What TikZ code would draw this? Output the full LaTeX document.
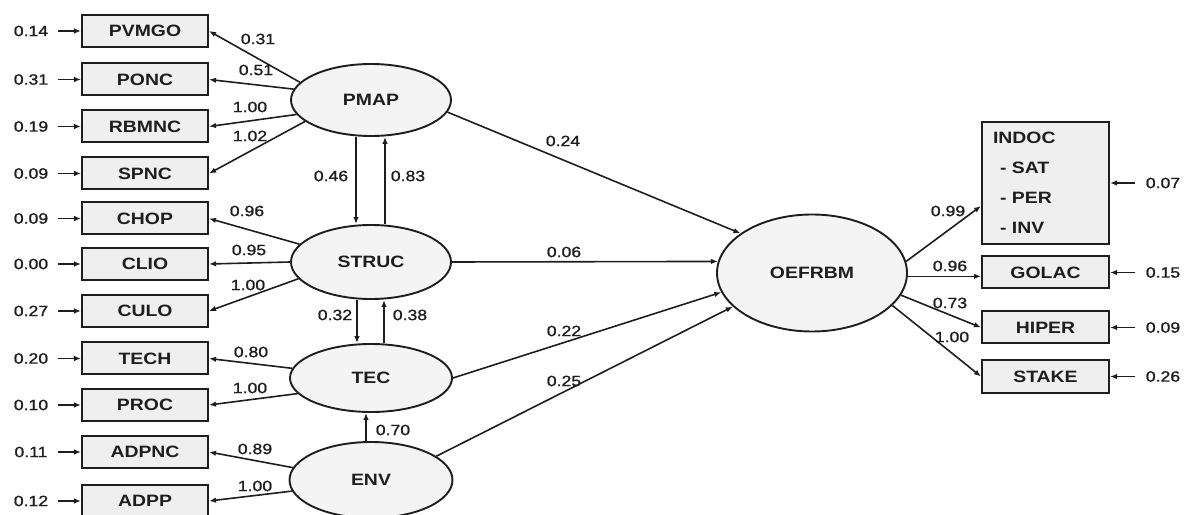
\documentclass[tikz,border=0pt]{standalone}
\usepackage{fontspec}
\setmainfont{Liberation Sans}[FakeStretch=1.18]
\newfontfamily\numfont{Liberation Sans}[FakeStretch=1.18,FakeBold=1.2]
\usetikzlibrary{arrows.meta,shapes.geometric}
\definecolor{ink}{HTML}{1E1E1E}
\definecolor{boxfill}{HTML}{EFEFEF}
\definecolor{latfill}{HTML}{F4F4F4}

\begin{document}
\begin{tikzpicture}[x=1bp,y=-1bp,
  obs/.style={rectangle,draw=ink,line width=2bp,fill=boxfill,
    minimum width=126bp,minimum height=32bp,inner sep=0pt,
    font=\fontsize{16.5}{19}\selectfont\bfseries,text=ink},
  lat/.style={ellipse,draw=ink,line width=1.9bp,fill=latfill,inner sep=0pt,
    font=\fontsize{16.5}{19}\selectfont\bfseries,text=ink},
  num/.style={inner sep=0pt,font=\numfont\fontsize{15}{18}\selectfont,text=ink},
  link/.style={draw=ink,line width=1.6bp,-{Latex[length=7bp,width=5.5bp]}}
]
\useasboundingbox (0,0) rectangle (1193,515);

% observed indicators of the exogenous factors, with their error terms
\foreach \n/\y/\e in {PVMGO/31/0.14, PONC/79.5/0.31, RBMNC/126.5/0.19,
    SPNC/173.5/0.09, CHOP/218.5/0.09, CLIO/264/0.00, CULO/311/0.27,
    TECH/358.5/0.20, PROC/405/0.10, ADPNC/452/0.11, ADPP/501/0.12}{
  \node[obs] (\n) at (145,\y) {\n};
  \node[num] (err\n) at (31,\y) {\e};
  \coordinate (src\n) at (58,\y);
  \draw[link] (src\n) -- (\n.west);
}

% latent variables
\node[lat,minimum width=160bp,minimum height=72bp] (PMAP) at (371,100) {PMAP};
\node[lat,minimum width=160bp,minimum height=74bp] (STRUC) at (371,262) {STRUC};
\node[lat,minimum width=162bp,minimum height=68bp] (TEC) at (371,378) {TEC};
\node[lat,minimum width=163bp,minimum height=76bp] (ENV) at (371,480) {ENV};
\node[lat,minimum width=190bp,minimum height=117bp] (OEFRBM) at (812,273) {OEFRBM};

% outcome indicators
\node[obs,minimum width=127bp,minimum height=122bp,align=left,
      text width=105bp,font=\fontsize{16.5}{30}\selectfont\bfseries]
  (INDOC) at (1045.5,183) {INDOC\\\hspace*{7bp}- SAT\\\hspace*{7bp}- PER\\\hspace*{7bp}- INV};
\node[obs,minimum width=127bp] (GOLAC) at (1045.5,272.5) {GOLAC};
\node[obs,minimum width=127bp] (HIPER) at (1045.5,327.5) {HIPER};
\node[obs,minimum width=127bp,minimum height=33bp] (STAKE) at (1045.5,376.5) {STAKE};

\foreach \n/\y/\e in {INDOC/183/0.07, GOLAC/272.5/0.15, HIPER/327.5/0.09, STAKE/376.5/0.26}{
  \coordinate (src\n) at (1135,\y);
  \node[num] (err\n) at (1163,\y) {\e};
  \draw[link] (src\n) -- (\n.east);
}

% measurement paths (latent -> indicator)
\draw[link] (PMAP.166) -- (PVMGO.east);
\draw[link] (PMAP.172) -- (PONC.east);
\draw[link] (PMAP.191) -- (RBMNC.east);
\draw[link] (PMAP.198) -- (SPNC.east);
\draw[link] (STRUC.166) -- (CHOP.east);
\draw[link] (STRUC.180) -- (CLIO.east);
\draw[link] (STRUC.193) -- (CULO.east);
\draw[link] (TEC.173) -- (TECH.east);
\draw[link] (TEC.192) -- (PROC.east);
\draw[link] (ENV.171) -- (ADPNC.east);
\draw[link] (ENV.188) -- (ADPP.east);

\node[num] (lPVMGO) at (258,39) {0.31};
\node[num] (lPONC) at (256,70) {0.51};
\node[num] (lRBMNC) at (250,107) {1.00};
\node[num] (lSPNC) at (250,136) {1.02};
\node[num] (lCHOP) at (247,211) {0.96};
\node[num] (lCLIO) at (249,250) {0.95};
\node[num] (lCULO) at (248,285) {1.00};
\node[num] (lTECH) at (251,352) {0.80};
\node[num] (lPROC) at (250,388) {1.00};
\node[num] (lADPNC) at (255,449) {0.89};
\node[num] (lADPP) at (255,486) {1.00};

% paths between the exogenous factors
\draw[link] ([xshift=-15bp]PMAP.south) -- ([xshift=-15bp]STRUC.north);
\draw[link] ([xshift=14bp]STRUC.north) -- ([xshift=14bp]PMAP.south);
\draw[link] ([xshift=-14bp]STRUC.south) -- ([xshift=-14bp]TEC.north);
\draw[link] ([xshift=13bp]TEC.north) -- ([xshift=13bp]STRUC.south);
\draw[link] ([xshift=-5bp]ENV.north) -- ([xshift=-5bp]TEC.south);
\node[num] (lPS) at (331,176) {0.46};
\node[num] (lSP) at (408,176) {0.83};
\node[num] (lST) at (335,315) {0.32};
\node[num] (lTS) at (410,315) {0.38};
\node[num] (lET) at (393,430) {0.70};

% structural paths to OEFRBM
\draw[link] (PMAP.351) -- (OEFRBM.151);
\draw[link] (STRUC.east) -- (OEFRBM.173);
\draw[link] (TEC.east) -- (OEFRBM.192);
\draw[link] (ENV.20) -- (OEFRBM.203);
\node[num] (lPO) at (563,141) {0.24};
\node[num] (lSO) at (564,252) {0.06};
\node[num] (lTO) at (564,331) {0.22};
\node[num] (lEO) at (564,381) {0.25};

% measurement paths of OEFRBM
\draw[link] (OEFRBM.7) -- ([yshift=-23bp]INDOC.west);
\draw[link] (OEFRBM.-2) -- (OEFRBM.-2 -| GOLAC.west);
\draw[link] (OEFRBM.346) -- (HIPER.west);
\draw[link] (OEFRBM.338) -- (STAKE.west);
\node[num] (lINDOC) at (948,211) {0.99};
\node[num] (lGOLAC) at (950,266) {0.96};
\node[num] (lHIPER) at (950,303) {0.73};
\node[num] (lSTAKE) at (952,337) {1.00};
\end{tikzpicture}
\end{document}
